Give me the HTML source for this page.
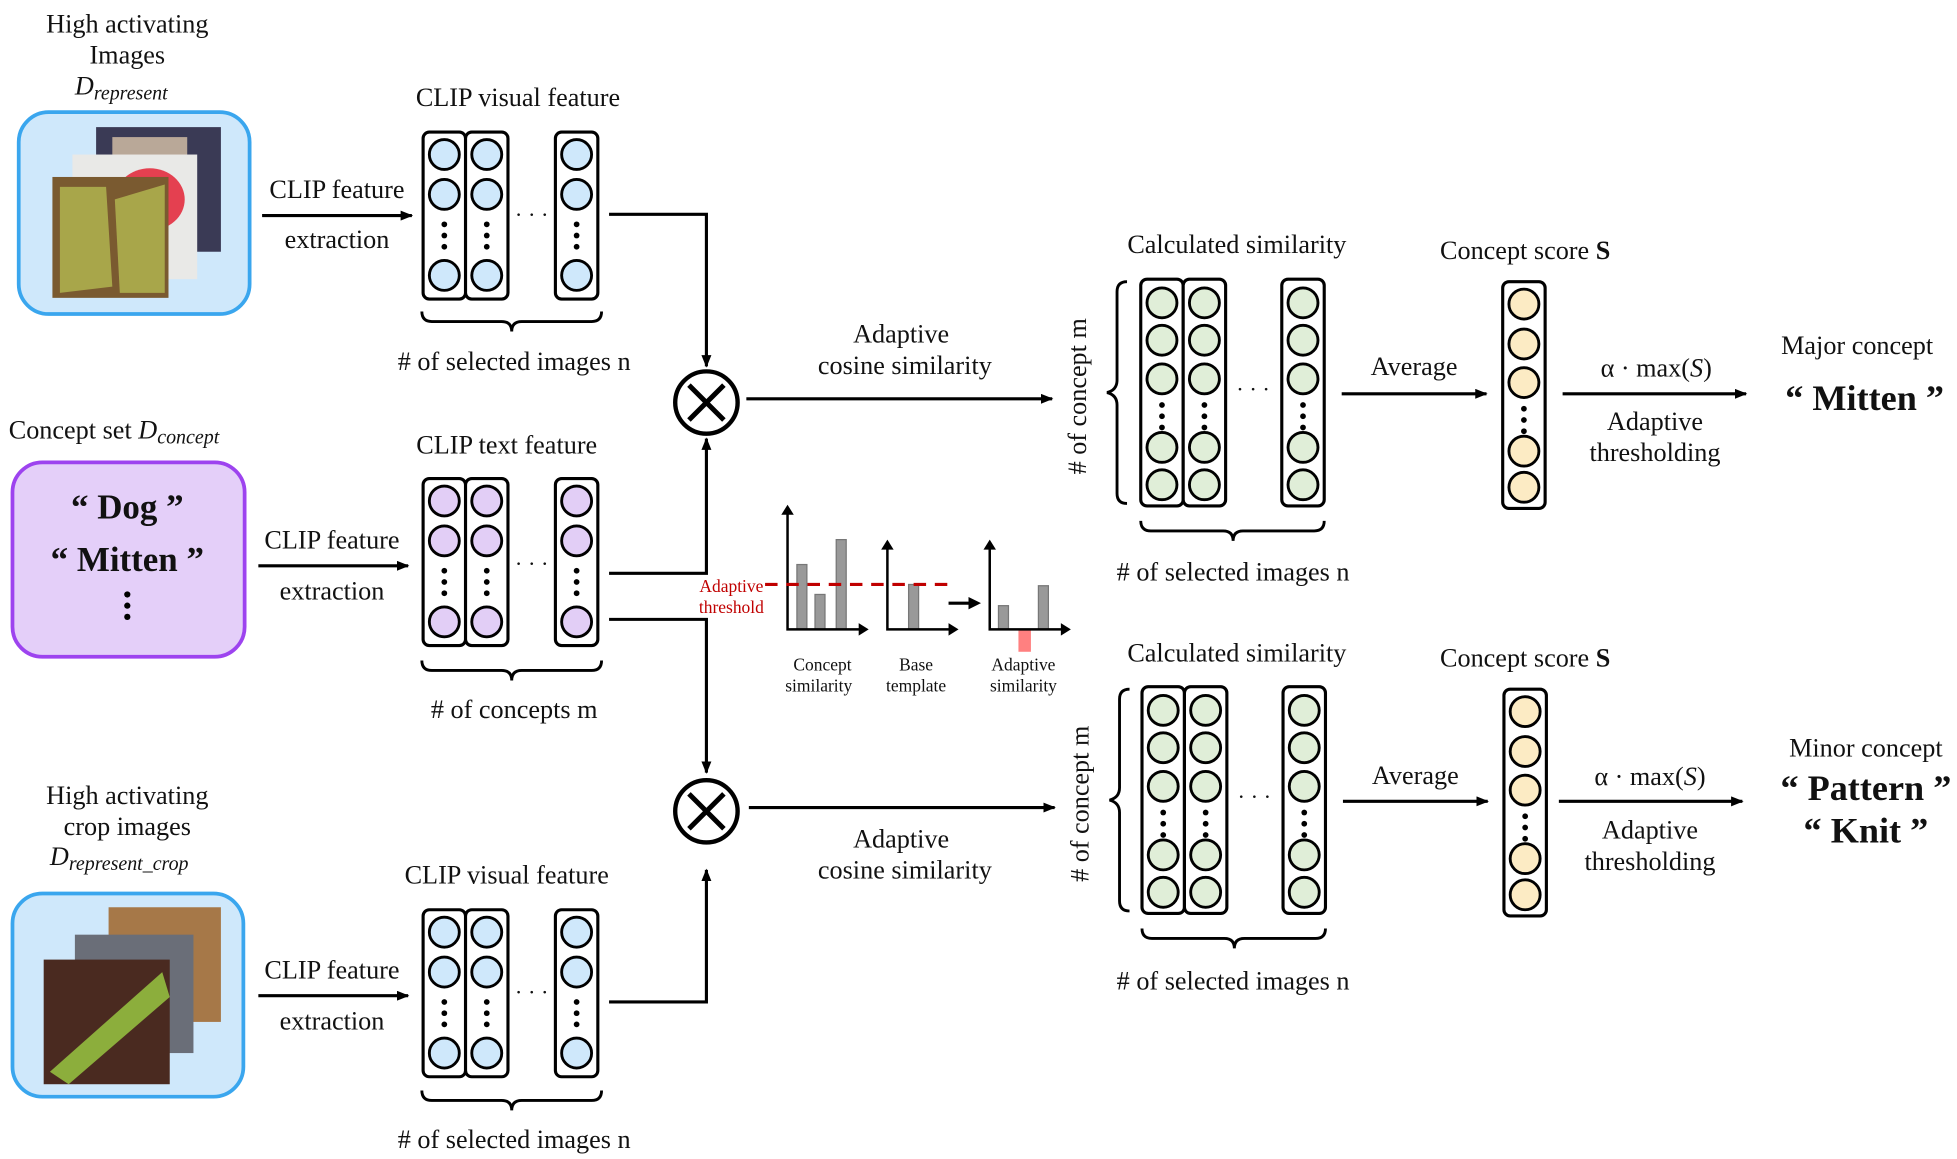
<!DOCTYPE html>
<html><head><meta charset="utf-8"><style>
html,body{margin:0;padding:0;background:#fff;}
svg{display:block;}
text{font-family:"Liberation Serif",serif;fill:#111;}
</style></head><body>
<svg width="1957" height="1159" viewBox="0 0 1568 930" preserveAspectRatio="none" xmlns="http://www.w3.org/2000/svg">
<defs>
<marker id="ar" markerWidth="10" markerHeight="8" refX="9" refY="4" orient="auto" markerUnits="userSpaceOnUse"><path d="M0,0 L10,4 L0,8 z" fill="#000"/></marker>
<g id="dots"><circle cx="17" cy="0" r="2.3" fill="#000"/><circle cx="17" cy="9" r="2.3" fill="#000"/><circle cx="17" cy="18" r="2.3" fill="#000"/></g>
<g id="cb"><rect x="0" y="0" width="34" height="134" rx="5" fill="#fff" stroke="#000" stroke-width="2.5"/>
<circle cx="17" cy="18" r="12" fill="#cfe8fb" stroke="#000" stroke-width="2.3"/>
<circle cx="17" cy="50" r="12" fill="#cfe8fb" stroke="#000" stroke-width="2.3"/>
<circle cx="17" cy="115" r="12" fill="#cfe8fb" stroke="#000" stroke-width="2.3"/>
<use href="#dots" y="74"/></g>
<g id="cp"><rect x="0" y="0" width="34" height="134" rx="5" fill="#fff" stroke="#000" stroke-width="2.5"/>
<circle cx="17" cy="18" r="12" fill="#e2cef6" stroke="#000" stroke-width="2.3"/>
<circle cx="17" cy="50" r="12" fill="#e2cef6" stroke="#000" stroke-width="2.3"/>
<circle cx="17" cy="115" r="12" fill="#e2cef6" stroke="#000" stroke-width="2.3"/>
<use href="#dots" y="74"/></g>
<g id="cg"><rect x="0" y="0" width="34" height="182" rx="5" fill="#fff" stroke="#000" stroke-width="2.5"/>
<circle cx="17" cy="19" r="12" fill="#e0eed8" stroke="#000" stroke-width="2.3"/>
<circle cx="17" cy="49" r="12" fill="#e0eed8" stroke="#000" stroke-width="2.3"/>
<circle cx="17" cy="80" r="12" fill="#e0eed8" stroke="#000" stroke-width="2.3"/>
<use href="#dots" y="101"/>
<circle cx="17" cy="135" r="12" fill="#e0eed8" stroke="#000" stroke-width="2.3"/>
<circle cx="17" cy="165" r="12" fill="#e0eed8" stroke="#000" stroke-width="2.3"/></g>
<g id="cy"><rect x="0" y="0" width="34" height="182" rx="5" fill="#fff" stroke="#000" stroke-width="2.5"/>
<circle cx="17" cy="18" r="12" fill="#fcebc4" stroke="#000" stroke-width="2.3"/>
<circle cx="17" cy="50" r="12" fill="#fcebc4" stroke="#000" stroke-width="2.3"/>
<circle cx="17" cy="81" r="12" fill="#fcebc4" stroke="#000" stroke-width="2.3"/>
<use href="#dots" y="102"/>
<circle cx="17" cy="136" r="12" fill="#fcebc4" stroke="#000" stroke-width="2.3"/>
<circle cx="17" cy="165" r="12" fill="#fcebc4" stroke="#000" stroke-width="2.3"/></g>
<g id="otimes"><circle cx="0" cy="0" r="25" fill="#fff" stroke="#000" stroke-width="3.5"/><path d="M-14,-14 L14,14 M14,-14 L-14,14" stroke="#000" stroke-width="4"/></g>
</defs>

<!-- Left top box -->
<text x="102" y="26" font-size="21" text-anchor="middle">High activating</text>
<text x="102" y="51" font-size="21" text-anchor="middle">Images</text>
<text x="60" y="76" font-size="21" font-style="italic">D<tspan font-size="16" dy="4">represent</tspan></text>
<rect x="15" y="90" width="185" height="162" rx="24" fill="#cfe8fb" stroke="#3aa6ee" stroke-width="3"/>
<rect x="77" y="102" width="100" height="100" fill="#3a3a55"/>
<rect x="90" y="110" width="60" height="40" fill="#b9a898"/>
<rect x="58" y="124" width="100" height="100" fill="#e9e9e7"/>
<ellipse cx="120" cy="160" rx="28" ry="25" fill="#e44050"/>
<rect x="42" y="142" width="93" height="97" fill="#7a5a30"/>
<path d="M48,150 L85,150 L90,230 L48,235 z" fill="#a8a64a"/>
<path d="M92,160 L132,148 L132,235 L96,235 z" fill="#a8a64a"/>

<!-- middle left box -->
<text x="7" y="352" font-size="21">Concept set <tspan font-style="italic">D</tspan><tspan font-style="italic" font-size="16" dy="4">concept</tspan></text>
<rect x="10" y="371" width="186" height="156" rx="24" fill="#e4cff9" stroke="#9d43ef" stroke-width="3"/>
<text x="102" y="416" font-size="28" font-weight="bold" text-anchor="middle">“ Dog ”</text>
<text x="102" y="458" font-size="28" font-weight="bold" text-anchor="middle">“ Mitten ”</text>
<circle cx="102" cy="477" r="2.5" fill="#000"/><circle cx="102" cy="486" r="2.5" fill="#000"/><circle cx="102" cy="495" r="2.5" fill="#000"/>

<!-- bottom left -->
<text x="102" y="645" font-size="21" text-anchor="middle">High activating</text>
<text x="102" y="670" font-size="21" text-anchor="middle">crop images</text>
<text x="40" y="694" font-size="21" font-style="italic">D<tspan font-size="16" dy="4">represent_crop</tspan></text>
<rect x="10" y="717" width="185" height="163" rx="24" fill="#cfe8fb" stroke="#3aa6ee" stroke-width="3"/>
<rect x="87" y="728" width="90" height="92" fill="#a67848"/>
<rect x="60" y="750" width="95" height="95" fill="#6a6e78"/>
<rect x="35" y="770" width="101" height="100" fill="#4a2a20"/>
<path d="M40,860 L130,780 L136,800 L55,870 z" fill="#8cae3c"/>

<!-- arrows left -->
<line x1="210" y1="173" x2="330" y2="173" stroke="#000" stroke-width="2.5" marker-end="url(#ar)"/>
<text x="270" y="159" font-size="21" text-anchor="middle">CLIP feature</text>
<text x="270" y="199" font-size="21" text-anchor="middle">extraction</text>
<line x1="207" y1="454" x2="327" y2="454" stroke="#000" stroke-width="2.5" marker-end="url(#ar)"/>
<text x="266" y="440" font-size="21" text-anchor="middle">CLIP feature</text>
<text x="266" y="481" font-size="21" text-anchor="middle">extraction</text>
<line x1="207" y1="799" x2="327" y2="799" stroke="#000" stroke-width="2.5" marker-end="url(#ar)"/>
<text x="266" y="785" font-size="21" text-anchor="middle">CLIP feature</text>
<text x="266" y="826" font-size="21" text-anchor="middle">extraction</text>

<!-- visual feature top -->
<text x="415" y="85" font-size="21" text-anchor="middle">CLIP visual feature</text>
<use href="#cb" x="339" y="106"/><use href="#cb" x="373" y="106"/><use href="#cb" x="445" y="106"/>
<text x="426" y="178" font-size="18" text-anchor="middle">· · ·</text>
<path d="M338,250 q0,8 8,8 L402,258 q8,0 8,8 q0,-8 8,-8 L474,258 q8,0 8,-8" fill="none" stroke="#000" stroke-width="2.3"/>
<text x="412" y="297" font-size="21" text-anchor="middle"># of selected images n</text>

<!-- text feature -->
<text x="406" y="364" font-size="21" text-anchor="middle">CLIP text feature</text>
<use href="#cp" x="339" y="384"/><use href="#cp" x="373" y="384"/><use href="#cp" x="445" y="384"/>
<text x="426" y="458" font-size="18" text-anchor="middle">· · ·</text>
<path d="M338,530 q0,8 8,8 L402,538 q8,0 8,8 q0,-8 8,-8 L474,538 q8,0 8,-8" fill="none" stroke="#000" stroke-width="2.3"/>
<text x="412" y="576" font-size="21" text-anchor="middle"># of concepts m</text>

<!-- visual feature bottom -->
<text x="406" y="709" font-size="21" text-anchor="middle">CLIP visual feature</text>
<use href="#cb" x="339" y="730"/><use href="#cb" x="373" y="730"/><use href="#cb" x="445" y="730"/>
<text x="426" y="802" font-size="18" text-anchor="middle">· · ·</text>
<path d="M338,875 q0,8 8,8 L402,883 q8,0 8,8 q0,-8 8,-8 L474,883 q8,0 8,-8" fill="none" stroke="#000" stroke-width="2.3"/>
<text x="412" y="921" font-size="21" text-anchor="middle"># of selected images n</text>

<!-- connectors to otimes -->
<polyline points="488,172 566,172 566,294" fill="none" stroke="#000" stroke-width="2.5" marker-end="url(#ar)"/>
<polyline points="488,460 566,460 566,352" fill="none" stroke="#000" stroke-width="2.5" marker-end="url(#ar)"/>
<polyline points="488,497 566,497 566,620" fill="none" stroke="#000" stroke-width="2.5" marker-end="url(#ar)"/>
<polyline points="488,804 566,804 566,698" fill="none" stroke="#000" stroke-width="2.5" marker-end="url(#ar)"/>
<use href="#otimes" x="566" y="323"/>
<use href="#otimes" x="566" y="651"/>

<line x1="598" y1="320" x2="843" y2="320" stroke="#000" stroke-width="2.5" marker-end="url(#ar)"/>
<text x="722" y="275" font-size="21" text-anchor="middle">Adaptive</text>
<text x="725" y="300" font-size="21" text-anchor="middle">cosine similarity</text>
<line x1="600" y1="648" x2="845" y2="648" stroke="#000" stroke-width="2.5" marker-end="url(#ar)"/>
<text x="722" y="680" font-size="21" text-anchor="middle">Adaptive</text>
<text x="725" y="705" font-size="21" text-anchor="middle">cosine similarity</text>

<!-- mini charts -->
<text x="586" y="475" font-size="14" style="fill:#c00000" text-anchor="middle">Adaptive</text>
<text x="586" y="492" font-size="14" style="fill:#c00000" text-anchor="middle">threshold</text>
<g>
<rect x="638.5" y="453" width="8" height="52" fill="#999" stroke="#777"/>
<rect x="653" y="477" width="8" height="28" fill="#999" stroke="#777"/>
<rect x="670" y="433" width="8" height="72" fill="#999" stroke="#777"/>
<polyline points="631,412 631,505 690,505" fill="none" stroke="#000" stroke-width="2"/>
<path d="M626,413 L631,405 L636,413 z M688,500 L696,505 L688,510 z" fill="#000"/>
<rect x="728" y="469" width="8" height="36" fill="#999" stroke="#777"/>
<polyline points="711,440 711,505 762,505" fill="none" stroke="#000" stroke-width="2"/>
<path d="M706,441 L711,433 L716,441 z M760,500 L768,505 L760,510 z" fill="#000"/>
<line x1="613" y1="469" x2="760" y2="469" stroke="#c00000" stroke-width="2.5" stroke-dasharray="10,7"/>
<line x1="760" y1="484" x2="778" y2="484" stroke="#000" stroke-width="2.5"/>
<path d="M776,479 L786,484 L776,489 z" fill="#000"/>
<rect x="800" y="486" width="8" height="19" fill="#999" stroke="#777"/>
<rect x="816" y="505" width="10" height="18" fill="#ff8080"/>
<rect x="832" y="470" width="8" height="35" fill="#999" stroke="#777"/>
<polyline points="793,440 793,505 852,505" fill="none" stroke="#000" stroke-width="2"/>
<path d="M788,441 L793,433 L798,441 z M850,500 L858,505 L850,510 z" fill="#000"/>
</g>
<text x="659" y="538" font-size="14" text-anchor="middle">Concept</text>
<text x="656" y="555" font-size="14" text-anchor="middle">similarity</text>
<text x="734" y="538" font-size="14" text-anchor="middle">Base</text>
<text x="734" y="555" font-size="14" text-anchor="middle">template</text>
<text x="820" y="538" font-size="14" text-anchor="middle">Adaptive</text>
<text x="820" y="555" font-size="14" text-anchor="middle">similarity</text>

<!-- top similarity -->
<text x="991" y="203" font-size="21" text-anchor="middle">Calculated similarity</text>
<text transform="translate(870,318) rotate(-90)" font-size="21" text-anchor="middle"># of concept m</text>
<path d="M903,226 q-8,0 -8,8 L895,305 q0,8 -8,10 q8,2 8,10 L895,396 q0,8 8,8" fill="none" stroke="#000" stroke-width="2.3"/>
<use href="#cg" x="914" y="224"/><use href="#cg" x="948" y="224"/><use href="#cg" x="1027" y="224"/>
<text x="1004" y="318" font-size="18" text-anchor="middle">· · ·</text>
<path d="M914,418 q0,8 8,8 L980,426 q8,0 8,8 q0,-8 8,-8 L1053,426 q8,0 8,-8" fill="none" stroke="#000" stroke-width="2.3"/>
<text x="988" y="466" font-size="21" text-anchor="middle"># of selected images n</text>

<line x1="1075" y1="316" x2="1191" y2="316" stroke="#000" stroke-width="2.5" marker-end="url(#ar)"/>
<text x="1133" y="301" font-size="21" text-anchor="middle">Average</text>
<text x="1222" y="208" font-size="21" text-anchor="middle">Concept score <tspan font-weight="bold">S</tspan></text>
<use href="#cy" x="1204" y="226"/>
<line x1="1252" y1="316" x2="1399" y2="316" stroke="#000" stroke-width="2.5" marker-end="url(#ar)"/>
<text x="1327" y="302" font-size="21" text-anchor="middle">α · max(<tspan font-style="italic">S</tspan>)</text>
<text x="1326" y="345" font-size="21" text-anchor="middle">Adaptive</text>
<text x="1326" y="370" font-size="21" text-anchor="middle">thresholding</text>
<text x="1488" y="284" font-size="21" text-anchor="middle">Major concept</text>
<text x="1494" y="329" font-size="29" font-weight="bold" text-anchor="middle">“ Mitten ”</text>

<!-- bottom similarity -->
<text x="991" y="531" font-size="21" text-anchor="middle">Calculated similarity</text>
<text transform="translate(872,645) rotate(-90)" font-size="21" text-anchor="middle"># of concept m</text>
<path d="M905,553 q-8,0 -8,8 L897,632 q0,8 -8,10 q8,2 8,10 L897,723 q0,8 8,8" fill="none" stroke="#000" stroke-width="2.3"/>
<use href="#cg" x="915" y="551"/><use href="#cg" x="949" y="551"/><use href="#cg" x="1028" y="551"/>
<text x="1005" y="645" font-size="18" text-anchor="middle">· · ·</text>
<path d="M915,745 q0,8 8,8 L981,753 q8,0 8,8 q0,-8 8,-8 L1054,753 q8,0 8,-8" fill="none" stroke="#000" stroke-width="2.3"/>
<text x="988" y="794" font-size="21" text-anchor="middle"># of selected images n</text>

<line x1="1076" y1="643" x2="1192" y2="643" stroke="#000" stroke-width="2.5" marker-end="url(#ar)"/>
<text x="1134" y="629" font-size="21" text-anchor="middle">Average</text>
<text x="1222" y="535" font-size="21" text-anchor="middle">Concept score <tspan font-weight="bold">S</tspan></text>
<use href="#cy" x="1205" y="553"/>
<line x1="1249" y1="643" x2="1396" y2="643" stroke="#000" stroke-width="2.5" marker-end="url(#ar)"/>
<text x="1322" y="630" font-size="21" text-anchor="middle">α · max(<tspan font-style="italic">S</tspan>)</text>
<text x="1322" y="673" font-size="21" text-anchor="middle">Adaptive</text>
<text x="1322" y="698" font-size="21" text-anchor="middle">thresholding</text>
<text x="1495" y="607" font-size="21" text-anchor="middle">Minor concept</text>
<text x="1495" y="642" font-size="29" font-weight="bold" text-anchor="middle">“ Pattern ”</text>
<text x="1495" y="676" font-size="29" font-weight="bold" text-anchor="middle">“ Knit ”</text>
</svg>
</body></html>
